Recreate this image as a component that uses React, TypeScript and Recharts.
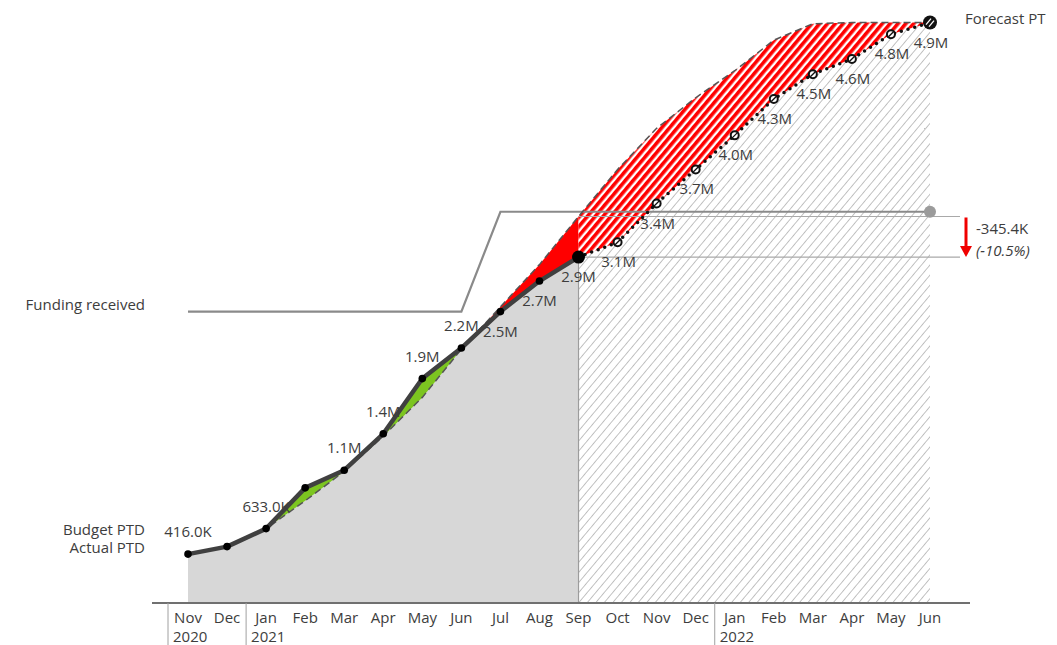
import { Area, ComposedChart, Line, ReferenceLine, XAxis, YAxis } from "recharts";

// month keys, Nov 2020 – Jun 2022
const periods = [
  "2020-11", "2020-12", "2021-01", "2021-02", "2021-03", "2021-04", "2021-05",
  "2021-06", "2021-07", "2021-08", "2021-09", "2021-10", "2021-11", "2021-12",
  "2022-01", "2022-02", "2022-03", "2022-04", "2022-05", "2022-06",
];
const monthLabels = [
  "Nov", "Dec", "Jan", "Feb", "Mar", "Apr", "May", "Jun", "Jul", "Aug",
  "Sep", "Oct", "Nov", "Dec", "Jan", "Feb", "Mar", "Apr", "May", "Jun",
];
const yearLabels = [
  "2020", "", "2021", "", "", "", "", "", "", "",
  "", "", "", "", "2022", "", "", "", "", "",
];

// cumulative amounts, in millions
const actualPTD = [0.416, 0.48, 0.633, 0.98, 1.13, 1.44, 1.91, 2.17, 2.48, 2.74, 2.944];
const budgetPTD = [
  0.416, 0.48, 0.633, 0.87, 1.12, 1.42, 1.75, 2.16, 2.52, 2.88,
  3.2894, 3.69, 4.04, 4.3, 4.53, 4.79, 4.93, 4.94, 4.94, 4.94,
];
const forecastPTD = [2.944, 3.07, 3.4, 3.69, 3.98, 4.29, 4.5, 4.63, 4.84, 4.94];
const fundingReceived = [
  2.48, 2.48, 2.48, 2.48, 2.48, 2.48, 2.48, 2.48, 3.33, 3.33,
  3.33, 3.33, 3.33, 3.33, 3.33, 3.33, 3.33, 3.33, 3.33, 3.33,
];

const W = 1038;
const H = 637;
const FONT = "'Open Sans', sans-serif";
const INK = "#3d3d3d";
const FS = 15;

const lastActual = actualPTD.length - 1;
const lastIdx = periods.length - 1;

// last month where actual was still at or above budget
let crossIdx = 0;
actualPTD.forEach((v, i) => {
  if (v >= budgetPTD[i]) crossIdx = i;
});

const rows = periods.map((period, i) => {
  const actual = i <= lastActual ? actualPTD[i] : null;
  const fi = i - lastActual;
  const forecast = fi >= 0 ? forecastPTD[fi] : null;
  const budget = budgetPTD[i];
  return {
    period,
    actual,
    forecast,
    budget,
    funding: fundingReceived[i],
    ahead: actual != null && i <= crossIdx ? [budget, actual] : null,
    behind: actual != null && i >= crossIdx ? [actual, budget] : null,
    gap: forecast != null ? [forecast, budget] : null,
  };
});

const sepKey = periods[lastActual];
const lastKey = periods[lastIdx];
const actualNow = actualPTD[lastActual];
const budgetNow = budgetPTD[lastActual];
const delta = actualNow - budgetNow;

const fmt = (v: number) =>
  v < 1 ? `${(v * 1000).toFixed(1)}K` : `${v.toFixed(1)}M`;

// Dec and Feb values would crowd their neighbours
const unlabeled = new Set([1, 3]);

const label = (x: number, y: number, text: string, anchor = "middle", extra = {}) => (
  <text x={x} y={y} textAnchor={anchor} fontSize={FS} fill={INK} {...extra}>
    {text}
  </text>
);

const MonthTick = (props: any) => {
  const { x, y, payload } = props;
  const i = payload.index;
  const year = yearLabels[i];
  return (
    <g>
      {label(x, y + 20, monthLabels[i])}
      {year && (
        <>
          <line x1={x - 20} y1={y} x2={x - 20} y2={y + 42} stroke="#a0a0a0" strokeWidth={1} />
          {label(x - 15, y + 39, year, "start")}
        </>
      )}
    </g>
  );
};

const actualDot = (p: any) => {
  const { cx, cy, index, value } = p;
  if (cx == null || cy == null || value == null) return <g key={`a${index}`} />;
  const below = index > crossIdx;
  return (
    <g key={`a${index}`}>
      <circle cx={cx} cy={cy} r={index === lastActual ? 6.5 : 3.8} fill="#000" />
      {index === 0 && label(cx - 43, cy - 1, "Actual PTD", "end")}
      {!unlabeled.has(index) && label(cx, below ? cy + 25 : cy - 17, fmt(value))}
    </g>
  );
};

const forecastDot = (p: any) => {
  const { cx, cy, index, value } = p;
  if (cx == null || cy == null || value == null || index === lastActual)
    return <g key={`f${index}`} />;
  const end = index === lastIdx;
  return (
    <g key={`f${index}`}>
      {end ? (
        <>
          <circle cx={cx} cy={cy} r={7} fill="#111" />
          <line x1={cx - 4} y1={cy + 2} x2={cx + 1} y2={cy - 4} stroke="#fff" strokeWidth={1.3} />
          <line x1={cx - 1} y1={cy + 4} x2={cx + 4} y2={cy - 2} stroke="#fff" strokeWidth={1.3} />
          {label(cx + 35, cy + 1, "Forecast PTD", "start")}
        </>
      ) : (
        <>
          <circle cx={cx} cy={cy} r={4} fill="#fff" stroke="#111" strokeWidth={2} />
          <line x1={cx - 2.5} y1={cy + 2.5} x2={cx + 2.5} y2={cy - 2.5} stroke="#111" strokeWidth={1.3} />
        </>
      )}
      {label(cx + 1, cy + 25, fmt(value))}
    </g>
  );
};

const budgetDot = (p: any) => {
  const { cx, cy, index } = p;
  if (index !== 0 || cx == null || cy == null) return <g key={`b${index}`} />;
  return <g key={`b${index}`}>{label(cx - 43, cy - 19, "Budget PTD", "end")}</g>;
};

const fundingDot = (p: any) => {
  const { cx, cy, index } = p;
  if (cx == null || cy == null) return <g key={`r${index}`} />;
  if (index === 0)
    return <g key={`r${index}`}>{label(cx - 43, cy - 2, "Funding received", "end")}</g>;
  if (index === lastIdx)
    return <circle key={`r${index}`} cx={cx} cy={cy} r={6} fill="#9b9b9b" />;
  return <g key={`r${index}`} />;
};

const bracketLine = (p: any) => (
  <line x1={p.x1} y1={p.y1} x2={p.x2 + 30} y2={p.y2} stroke="#a9a9a9" strokeWidth={1.2} />
);

const varianceMarker = (p: any) => {
  const ax = p.x1 + 36;
  const top = p.y1 + 1;
  const bottom = p.y2;
  return (
    <g>
      <line x1={ax} y1={top} x2={ax} y2={bottom - 9} stroke="#f00000" strokeWidth={3} />
      <polygon points={`${ax - 6},${bottom - 11} ${ax + 6},${bottom - 11} ${ax},${bottom}`} fill="#f00000" />
      {label(ax + 10, top + 17, `${(delta * 1000).toFixed(1)}K`, "start")}
      {label(ax + 10, bottom - 1, `(${((delta / budgetNow) * 100).toFixed(1)}%)`, "start", {
        fontStyle: "italic",
      })}
    </g>
  );
};

export default function App() {
  return (
    <div style={{ width: W, height: H, overflow: "hidden", fontFamily: FONT }}>
      <ComposedChart
        width={W}
        height={H}
        data={rows}
        margin={{ top: 7.5, right: 76, bottom: 0, left: 144 }}
      >
        <defs>
          <pattern id="fcHatch" width="6.5" height="6.5" patternUnits="userSpaceOnUse" patternTransform="rotate(40)">
            <rect width="6.5" height="6.5" fill="#fff" />
            <line x1="0" y1="0" x2="0" y2="6.5" stroke="#a8a8a8" strokeWidth="1.4" />
          </pattern>
          <pattern id="gapHatch" width="6" height="6" patternUnits="userSpaceOnUse" patternTransform="rotate(40)">
            <rect width="6" height="6" fill="#fff" />
            <rect width="3.6" height="6" fill="#ff0000" />
          </pattern>
        </defs>

        <XAxis
          dataKey="period"
          height={42}
          interval={0}
          padding={{ left: 36, right: 40 }}
          tickSize={0}
          tickMargin={0}
          axisLine={{ stroke: "#707070", strokeWidth: 2 }}
          tick={MonthTick}
        />
        <YAxis hide type="number" domain={[0, 5]} />

        {/* filled history and hatched outlook */}
        <Area dataKey="actual" type="linear" fill="#d7d7d7" fillOpacity={1} stroke="none" isAnimationActive={false} />
        <Area dataKey="forecast" type="linear" fill="url(#fcHatch)" fillOpacity={1} stroke="none" isAnimationActive={false} />

        {/* variance to budget */}
        <Area dataKey="ahead" type="linear" fill="#7cc520" fillOpacity={1} stroke="none" isAnimationActive={false} />
        <Area dataKey="behind" type="linear" fill="#ff0000" fillOpacity={1} stroke="none" isAnimationActive={false} />
        <Area dataKey="gap" type="linear" fill="url(#gapHatch)" fillOpacity={1} stroke="none" isAnimationActive={false} />

        <ReferenceLine segment={[{ x: sepKey, y: 0 }, { x: sepKey, y: actualNow }]} stroke="#9c9c9c" strokeWidth={1.2} />
        <ReferenceLine segment={[{ x: sepKey, y: budgetNow }, { x: lastKey, y: budgetNow }]} shape={bracketLine} />
        <ReferenceLine segment={[{ x: sepKey, y: actualNow }, { x: lastKey, y: actualNow }]} shape={bracketLine} />
        <ReferenceLine segment={[{ x: lastKey, y: budgetNow }, { x: lastKey, y: actualNow }]} shape={varianceMarker} />

        <Line dataKey="funding" type="linear" stroke="#8a8a8a" strokeWidth={2.2} dot={fundingDot} activeDot={false} isAnimationActive={false} />
        <Line dataKey="budget" type="linear" stroke="#555" strokeWidth={1.5} strokeDasharray="7 4" dot={budgetDot} activeDot={false} isAnimationActive={false} />
        <Line
          dataKey="actual"
          type="linear"
          stroke="#404040"
          strokeWidth={4.5}
          strokeLinejoin="round"
          dot={actualDot}
          activeDot={false}
          isAnimationActive={false}
        />
        <Line
          dataKey="forecast"
          type="linear"
          stroke="#111"
          strokeWidth={3.5}
          strokeDasharray="0 7"
          strokeLinecap="round"
          dot={forecastDot}
          activeDot={false}
          isAnimationActive={false}
        />
      </ComposedChart>
    </div>
  );
}
